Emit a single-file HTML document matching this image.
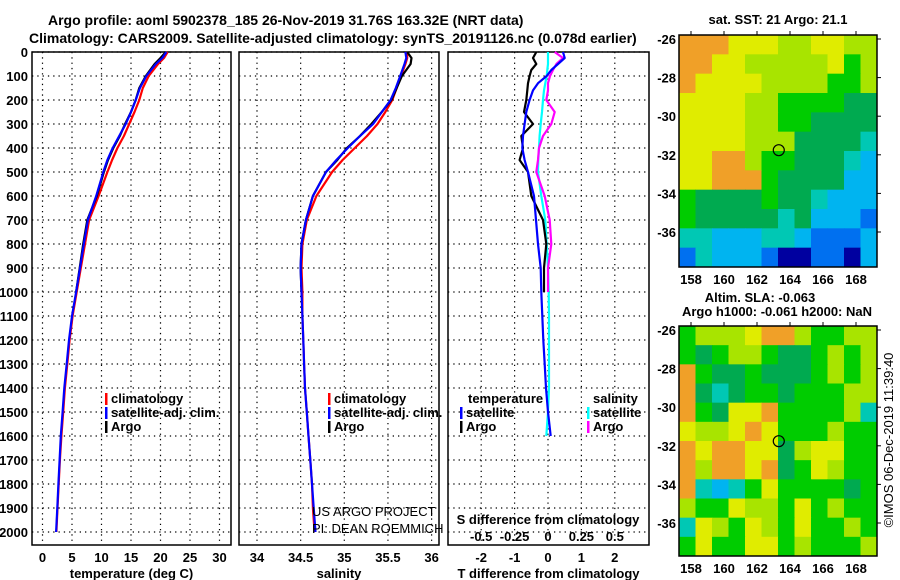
<!DOCTYPE html>
<html><head><meta charset="utf-8">
<style>
html,body{margin:0;padding:0;background:#fff;}
svg{display:block;font-family:"Liberation Sans",sans-serif;}
.t{font-weight:bold;font-size:14px;}
.tk{font-weight:bold;font-size:13px;}
.lg{font-size:13px;font-weight:bold;}
.th{font-size:13px;}
</style></head>
<body>
<svg id="chart" width="900" height="580" viewBox="0 0 900 580" xmlns="http://www.w3.org/2000/svg">
<text class="t" x="48" y="25">Argo profile: aoml 5902378_185 26-Nov-2019 31.76S 163.32E (NRT data)</text>
<text class="t" x="29" y="43">Climatology: CARS2009. Satellite-adjusted climatology: synTS_20191126.nc (0.078d earlier)</text>
<g id="p1"></g>
<g id="p2"></g>
<g id="p3"></g>
<g id="m1"></g>
<g id="m2"></g>
<text class="t" x="778" y="24" text-anchor="middle" style="font-size:13px">sat. SST: 21 Argo: 21.1</text>
<text class="t" x="760" y="302" text-anchor="middle" style="font-size:13px">Altim. SLA: -0.063</text>
<text class="t" x="777" y="316" text-anchor="middle" style="font-size:13px">Argo h1000: -0.061 h2000: NaN</text>
<text x="0" y="0" transform="translate(893,440) rotate(-90)" text-anchor="middle" style="font-size:13px">©IMOS 06-Dec-2019 11:39:40</text>
</svg>
<script>
// ---- data ----
const tDepth = [0,25,50,100,150,200,250,300,350,400,450,500,600,700,800,900,1000,1100,1200,1300,1400,1500,1600,1700,1800,1900,2000];
const tClim = [21.2,20.6,19.6,18.0,17.0,16.4,15.6,14.7,13.8,12.7,11.8,11.0,9.5,7.9,7.2,6.5,5.8,5.1,4.6,4.2,3.8,3.5,3.2,2.95,2.75,2.55,2.35];
const tSat = [21.0,20.3,19.2,17.6,16.5,15.8,15.0,14.1,13.0,11.9,11.0,10.3,9.1,7.7,7.0,6.35,5.7,5.0,4.5,4.1,3.7,3.4,3.1,2.9,2.7,2.5,2.3];
const argoDepth = [0,25,50,100,150,200,250,300,350,400,450,500,600,700,800,900,1000];
const tArgo = [20.9,20.0,19.0,17.5,16.4,15.8,15.0,14.0,13.1,12.0,11.1,10.4,9.2,7.6,6.9,6.3,5.7];
const sClim = [35.72,35.72,35.70,35.65,35.60,35.55,35.47,35.38,35.26,35.12,34.98,34.86,34.68,34.57,34.52,34.51,34.52,34.52,34.53,34.54,34.55,34.57,34.59,34.61,34.63,34.64,34.66];
const sSat = [35.70,35.71,35.69,35.64,35.59,35.53,35.43,35.33,35.18,35.04,34.91,34.79,34.64,34.56,34.51,34.50,34.51,34.52,34.53,34.54,34.55,34.57,34.59,34.61,34.63,34.65,34.67];
const sArgo = [35.72,35.77,35.76,35.66,35.60,35.54,35.43,35.31,35.18,35.03,34.92,34.79,34.64,34.56,34.51,34.50,34.51];
const dDepth = [0,25,50,75,100,130,160,200,250,300,350,400,450,500,600,700,800,900,1000,1100,1200,1300,1400,1500,1600];
const dArgoDepth = [0,25,50,75,100,130,160,200,250,300,350,400,450,500,600,700,800,900,1000];
const dTsat = [0.45,0.5,0.3,0.1,-0.04,-0.3,-0.45,-0.55,-0.65,-0.7,-0.75,-0.77,-0.7,-0.6,-0.42,-0.36,-0.3,-0.22,-0.2,-0.17,-0.14,-0.1,-0.06,0.0,0.08];
const dTargo = [-0.35,-0.45,-0.35,-0.5,-0.55,-0.6,-0.62,-0.65,-0.72,-0.45,-0.8,-0.75,-0.85,-0.6,-0.5,-0.15,-0.05,-0.12,-0.12];
const dScat = [0,0,0,-0.02,-0.04,-0.08,-0.12,-0.15,-0.18,-0.22,-0.25,-0.27,-0.29,-0.3,-0.2,-0.08,-0.04,0.0,0.02,0.03,0.03,0.03,0.03,0.0,-0.05];
const dSargo = [0.2,0.45,0.25,0.15,0.06,0.0,0.0,-0.05,0.2,0.1,-0.15,-0.27,-0.3,-0.35,-0.1,0.05,0.1,0.0,0.0];
const depthTicks = [0,100,200,300,400,500,600,700,800,900,1000,1100,1200,1300,1400,1500,1600,1700,1800,1900,2000];
const tTicks = [0,5,10,15,20,25,30];
const sTicks = [34,34.5,35,35.5,36];
const sTickLabels = ["34","34.5","35","35.5","36"];
const dTicks = [-2,-1,0,1,2];
const dSTicks = [-0.5,-0.25,0,0.25,0.5];
const sstRows = ["OOOYYYLLYYLL","OOYYLLLLLYGL","OYYYYLLLLGGL","YYYYLLGGGGDD","YYYYLLGGDDDD","YYYYLLLDDDDT","YYOOLGGDDDTC","YYOOOGDDDDCC","GDDDDGDDTCCC","GDDDDDTDCCCB","TTCCCTTCBBBC","BTCCCBNNBBNC"];
const slaRows = ["GLLLYOOLGGLL","GDGLLGDDGLGL","OGDDGDDDGLGL","ODTDGGDGGGLL","OGDYYOGGGGLT","YLLYOYGGGLGG","OYOOYYDLYYGG","OLOOYODGYLGG","OTCTGYGGGGDG","LGGYLLGYGLGG","TYLGYLGYGGLG","GYGGYYGLGGGL"];
const latTicks = [-26,-28,-30,-32,-34,-36];
const lonTicks = [158,160,162,164,166,168];
const argoLon = 163.32, argoLat = -31.76;

const NS = "http://www.w3.org/2000/svg";
function mk(parent, tag, attrs){const e=document.createElementNS(NS,tag);for(const k in attrs)e.setAttribute(k,attrs[k]);parent.appendChild(e);return e;}
const Y = d => 52 + d*0.24;
const pTop=52, pBot=545;

function panel(g, x0, x1, xs, ticks, labels, xlabel){
  ticks.forEach((t,i)=>{
    const x=xs(t);
    const l=mk(g,'line',{x1:x,x2:x,y1:pTop,y2:pBot,stroke:'#000','stroke-dasharray':'1.3,4','stroke-width':1.2});
    
    
    const tx=mk(g,'text',{x:x,y:562,'text-anchor':'middle',class:'tk'});
    tx.textContent=labels[i];
    
    
  });
  depthTicks.forEach(d=>{
    const l=mk(g,'line',{x1:x0,x2:x1,y1:Y(d),y2:Y(d),stroke:'#000','stroke-dasharray':'1.3,4','stroke-width':1.2});
    
    
  });
  const r=mk(g,'rect',{x:x0,y:pTop,width:x1-x0,height:pBot-pTop,fill:'none',stroke:'#000','stroke-width':1.5});
  
  
  const xl=mk(g,'text',{x:(x0+x1)/2,y:578,'text-anchor':'middle',class:'tk'});
  xl.textContent=xlabel;
  
  
}
function line(g, xs, vals, depths, color, name, w){
  const pts=vals.map((v,i)=>xs(v).toFixed(1)+','+Y(depths[i]).toFixed(1)).join(' ');
  const p=mk(g,'polyline',{points:pts,fill:'none',stroke:color,'stroke-width':w||2.2,'stroke-linejoin':'round'});
  
  
}
function legend(g, x, y, items){
  items.forEach((it,i)=>{
    const yy=y+i*14;
    const b=mk(g,'rect',{x:x,y:yy-10,width:2.5,height:12,fill:it[1]});
    
    
    const t=mk(g,'text',{x:x+6,y:yy,class:'lg'});
    t.textContent=it[0];
    
    
  });
}

// panel 1
const p1=document.getElementById('p1');
const xT=v=>42.5+v*5.9;
panel(p1,32,231,xT,tTicks,tTicks.map(String),'temperature (deg C)');
depthTicks.forEach(d=>{
  const t=mk(p1,'text',{x:28,y:Y(d)+5,'text-anchor':'end',class:'tk'});
  t.textContent=String(d);
  
  
});
line(p1,xT,tClim,tDepth,'#f00','climatology-temperature-line');
line(p1,xT,tArgo,argoDepth,'#000','argo-temperature-line');
line(p1,xT,tSat,tDepth,'#00f','satellite-temperature-line');
legend(p1,105,403,[['climatology','#f00'],['satellite-adj. clim.','#00f'],['Argo','#000']]);

// panel 2
const p2=document.getElementById('p2');
const xS=v=>257+(v-34)*87.3;
panel(p2,239,439,xS,sTicks,sTickLabels,'salinity');
line(p2,xS,sClim,tDepth,'#f00','climatology-salinity-line');
line(p2,xS,sArgo,argoDepth,'#000','argo-salinity-line');
line(p2,xS,sSat,tDepth,'#00f','satellite-salinity-line');
legend(p2,328,403,[['climatology','#f00'],['satellite-adj. clim.','#00f'],['Argo','#000']]);
const c1=mk(p2,'text',{x:312,y:516,class:'th'});c1.textContent='US ARGO PROJECT';


const c2=mk(p2,'text',{x:312,y:533,class:'th'});c2.textContent='PI: DEAN ROEMMICH';



// panel 3
const p3=document.getElementById('p3');
const xD=v=>548+v*33.4;
panel(p3,448,649,xD,dTicks,dTicks.map(String),'T difference from climatology');
line(p3,xD,dScat,dDepth,'#0ff','satellite-salinity-diff-line');
line(p3,xD,dSargo,dArgoDepth,'#f0f','argo-salinity-diff-line');
line(p3,xD,dTargo,dArgoDepth,'#000','argo-temperature-diff-line');
line(p3,xD,dTsat,dDepth,'#00f','satellite-temperature-diff-line');
const lh1=mk(p3,'text',{x:468,y:403,class:'lg'});lh1.textContent='temperature';


const lh2=mk(p3,'text',{x:593,y:403,class:'lg'});lh2.textContent='salinity';


legend(p3,460,417,[['satellite','#00f'],['Argo','#000']]);
legend(p3,587,417,[['satellite','#0ff'],['Argo','#f0f']]);
const sdl=mk(p3,'text',{x:548,y:524,'text-anchor':'middle',class:'tk'});sdl.textContent='S difference from climatology';


dSTicks.forEach(s=>{
  const t=mk(p3,'text',{x:xD(s*4),y:541,'text-anchor':'middle',class:'tk'});
  t.textContent=String(s);
  
  
});

// maps
const colors={O:'#f0a028',Y:'#e0ec00',L:'#a8e400',G:'#00cc00',D:'#00aa50',T:'#00c8b4',C:'#00b4f0',B:'#0070f0',N:'#0000a0'};
function map(g, y0, rows, labelY){
  const x0=679,x1=877,y1=y0+(labelY==='top'?232:230);
  const lx=v=>691+(v-158)*16.5;
  const ly=v=>(y0+4)+(-26-v)*19.3;
  const cw=(x1-x0)/12, ch=(y1-y0)/12;
  rows.forEach((row,r)=>{
    for(let c=0;c<row.length;c++){
      const cell=mk(g,'rect',{x:x0+c*cw,y:y0+r*ch,width:cw+0.5,height:ch+0.5,fill:colors[row[c]]});
      
      
    }
  });
  const fr=mk(g,'rect',{x:x0,y:y0,width:x1-x0,height:y1-y0,fill:'none',stroke:'#000','stroke-width':1.5});
  
  
  latTicks.forEach(l=>{
    const t=mk(g,'text',{x:676,y:ly(l)+5,'text-anchor':'end',class:'tk'});
    t.textContent=String(l);
    
    
    mk(g,'line',{x1:x1,x2:x1+4,y1:ly(l),y2:ly(l),stroke:'#000'});
  });
  lonTicks.forEach(l=>{
    const t=mk(g,'text',{x:lx(l),y:y1+17,'text-anchor':'middle',class:'tk'});
    t.textContent=String(l);
    
    
    mk(g,'line',{x1:lx(l),x2:lx(l),y1:y0,y2:y0-4,stroke:'#000'});
  });
  const ci=mk(g,'circle',{cx:lx(argoLon),cy:ly(argoLat),r:5.5,fill:'none',stroke:'#000','stroke-width':1.2});
  
  
}
map(document.getElementById('m1'),35,sstRows,'top');
map(document.getElementById('m2'),326,slaRows,'bot');
</script>
</body></html>
